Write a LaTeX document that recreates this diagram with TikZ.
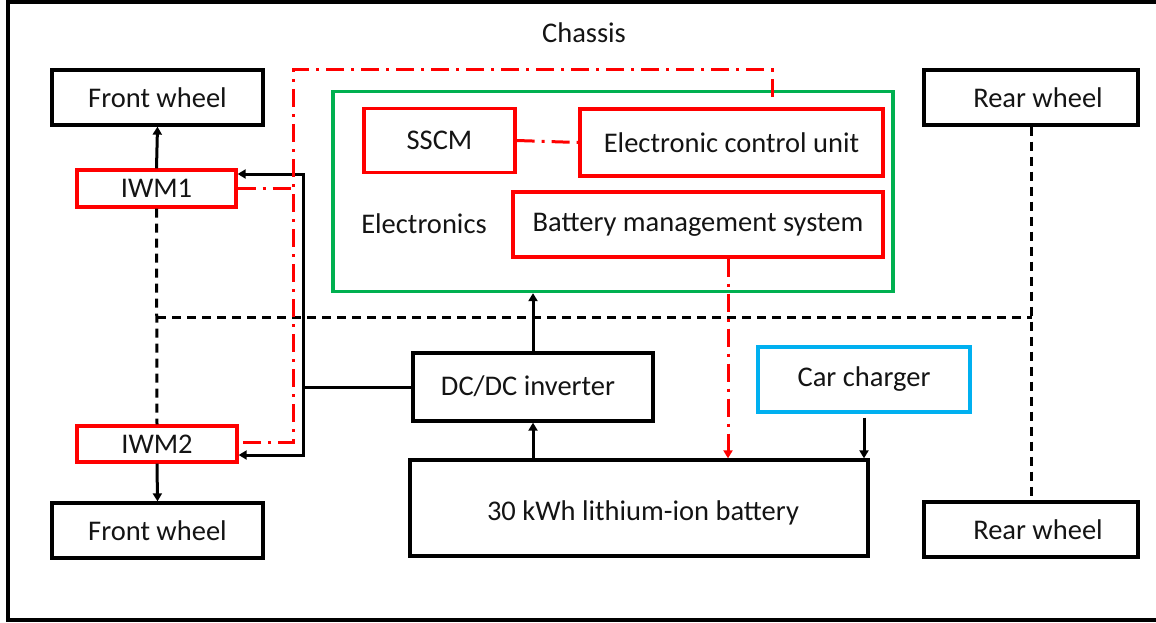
\documentclass[tikz,border=0pt]{standalone}
\usepackage{fontspec}
\setmainfont{Carlito}
\usetikzlibrary{arrows.meta}
\definecolor{elgreen}{RGB}{0,176,80}
\definecolor{chcyan}{RGB}{0,176,240}
\definecolor{txt}{RGB}{20,20,20}
\begin{document}
\begin{tikzpicture}[x=1pt,y=-1pt, font=\fontsize{28.5}{32}\selectfont,
  every node/.style={text=txt},
  box/.style={draw, line width=3.3pt, inner sep=0pt, anchor=center},
  blk/.style={box, draw=black},
  redbox/.style={box, draw=red},
  conn/.style={line width=3pt, line join=miter},
  tip/.style={-{Triangle[length=8pt,width=9pt]}},
  arr/.style={conn, tip},
  dsh/.style={line width=3pt, dash pattern=on 9pt off 6pt},
  dd/.style={draw=red, line width=3pt, dash pattern=on 18pt off 7pt on 3pt off 7pt}]

\useasboundingbox (0,0) rectangle (1156,623);
\draw[line width=3.3pt] (1165,2) -- (8,2) -- (8,620) -- (1165,620);

\node (chassis) at (584,33) {Chassis};

% wheels
\node[blk, minimum width=211pt, minimum height=55pt] (fw1) at (157.5,97.5) {Front wheel};
\node[blk, minimum width=211pt, minimum height=55pt] (fw2) at (157.5,530.5) {Front wheel};
\node[blk, minimum width=214pt, minimum height=55pt] (rw1) at (1031,97.5) {\hspace*{14pt}Rear wheel};
\node[blk, minimum width=214pt, minimum height=55pt] (rw2) at (1031,529.5) {\hspace*{14pt}Rear wheel};

% motors
\node[redbox, minimum width=159pt, minimum height=37pt] (iwm1) at (156.5,188.5) {IWM1};
\node[redbox, minimum width=160pt, minimum height=36pt] (iwm2) at (157,444) {IWM2};

% electronics
\node[box, draw=elgreen, minimum width=560pt, minimum height=200pt] (el) at (613,191.5) {};
\node (eltext) at (424,224) {Electronics};
\node[redbox, minimum width=151pt, minimum height=64pt] (sscm) at (439.5,140.5) {SSCM};
\node[redbox, minimum width=303pt, minimum height=67pt] (ecu) at (731.5,142.5) {Electronic control unit};
\node[redbox, minimum width=370pt, minimum height=65pt] (bms) at (698,224.5) {Battery management system};

% power
\node[blk, minimum width=240pt, minimum height=68pt, text height=22pt, text depth=6pt] (dcdc) at (533,387) {\hspace*{-10pt}DC/DC inverter};
\node[blk, minimum width=458pt, minimum height=96pt, text height=30pt, text depth=6pt] (bat) at (639,508) {\hspace*{8pt}30 kWh lithium-ion battery};
\node[box, draw=chcyan, minimum width=212pt, minimum height=65pt] (charger) at (864,379.5) {Car charger};

% coordinates
\coordinate (bt) at (303,174);
\coordinate (bm) at (303,387);
\coordinate (bb) at (303,455);
\coordinate (dl) at (157,317);
\coordinate (dr) at (1032,317);
\coordinate (re) at (772,97);
\coordinate (rt) at (772,70);
\coordinate (rl) at (293,70);
\coordinate (rb) at (293,442);
\coordinate (bx) at (728,0);

% wheel arrows
\draw[arr] (iwm1.north) -- (fw1.south);
\draw[arr] (iwm2.south) -- (fw2.north);

% power bus
\draw[arr] (bm) -- (bt) -- (iwm1.east |- bt);
\draw[arr] (bm) -- (bb) -- (iwm2.east |- bb);
\draw[conn] (bm) -- (dcdc.west);
\draw[arr] (dcdc.north) -- (el.south -| dcdc.north);
\draw[arr] (dcdc.south |- bat.north) -- (dcdc.south);
\draw[arr, shorten <=4pt] (charger.south) -- (charger.south |- bat.north);

% mechanical (dashed)
\draw[dsh] (iwm1.south) -- (iwm2.north);
\draw[dsh] (dl) -- (dr);
\draw[dsh] (rw1.south) -- (rw2.north);

% signals (red dash-dot)
\draw[dd] (re) -- (rt) -- (rl) -- (rb) -- (iwm2.east |- rb);
\draw[dd] (iwm1.east) -- (iwm1.east -| rl);
\draw[dd] (sscm.east) -- (ecu.west);
\draw[dd, -{Triangle[length=8pt,width=9pt,fill=red]}] (bms.south -| bx) -- (bat.north -| bx);
\end{tikzpicture}
\end{document}
